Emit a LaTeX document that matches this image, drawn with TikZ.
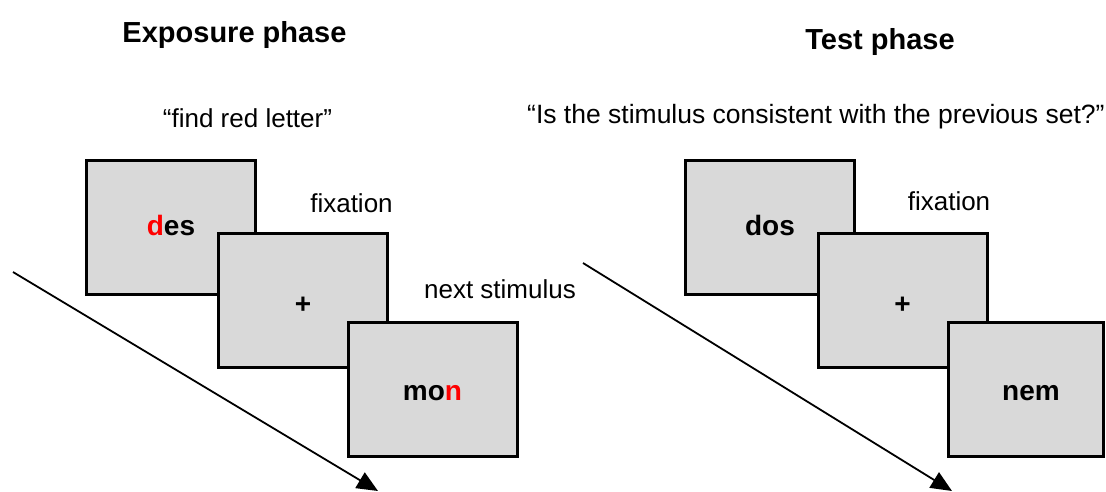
\documentclass[tikz,border=0pt]{standalone}
\usepackage{fontspec}
\setmainfont{Liberation Sans}
\usetikzlibrary{arrows.meta}
\definecolor{boxgray}{HTML}{D9D9D9}
\definecolor{hired}{HTML}{FF0000}
\begin{document}
\begin{tikzpicture}[x=1pt,y=-1pt,
  screen/.style={draw=black,line width=3pt,fill=boxgray,minimum width=169pt,minimum height=134pt,inner sep=0pt},
  title/.style={font=\fontsize{29}{34}\selectfont\bfseries,anchor=base,inner sep=0pt},
  label/.style={font=\fontsize{26}{31}\selectfont,anchor=base,inner sep=0pt},
  stim/.style={font=\fontsize{28}{33}\selectfont\bfseries,anchor=base,inner sep=0pt},
  timeline/.style={line width=1.8pt,-{Triangle[length=21pt,width=18pt]}}]
\useasboundingbox (0,0) rectangle (1106,491);
% titles
\node[title] (t1) at (234.5,42.5) {Exposure phase};
\node[title] (t2) at (880,49.5) {Test phase};
\node[label] (q1) at (247.5,127) {“find red letter”};
\node[label,font=\fontsize{26.5}{31}\selectfont,anchor=base west] (q2) at (527,123) {“Is the stimulus consistent with the previous set?”};
% timelines
\coordinate (a1s) at (13,272);
\coordinate (a1e) at (378,491);
\coordinate (a2s) at (583,263);
\coordinate (a2e) at (952,491);
\draw[timeline] (a1s) -- (a1e);
\draw[timeline] (a2s) -- (a2e);
% exposure boxes
\node[screen] (e1) at (171,227) {};
\node[stim] (e1t) at (171,235) {\textcolor{hired}{d}es};
\node[screen] (e2) at (303,300.5) {};
\node[stim] (e2t) at (303,313) {+};
\node[screen] (e3) at (432.5,389.5) {};
\node[stim] (e3t) at (432.5,400) {mo\textcolor{hired}{n}};
\node[label] (f1) at (351.5,212) {fixation};
\node[label] (n1) at (500,298) {next stimulus};
% test boxes
\node[screen] (s1) at (770,227) {};
\node[stim] (s1t) at (770,235) {dos};
\node[screen] (s2) at (902.5,300.5) {};
\node[stim] (s2t) at (902.5,313) {+};
\node[screen,minimum width=155pt] (s3) at (1025.5,389.5) {};
\node[stim] (s3t) at (1031,400) {nem};
\node[label] (f2) at (949,210) {fixation};
\end{tikzpicture}
\end{document}
